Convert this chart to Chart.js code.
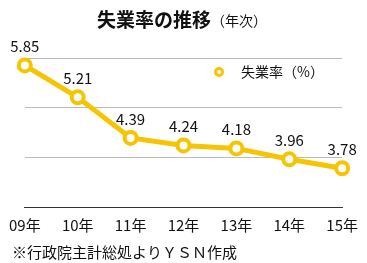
<!DOCTYPE html>
<html>
<head>
<meta charset="utf-8">
<script src="https://cdn.jsdelivr.net/npm/chart.js@4"></script>
<style>
  html, body { margin: 0; padding: 0; background: #fff; }
  #wrap { width: 367px; height: 263px; }
</style>
</head>
<body>
<div id="wrap"><canvas id="chart" width="367" height="263"></canvas></div>
<script>
const years = ["09年", "10年", "11年", "12年", "13年", "14年", "15年"];
const rates = [5.85, 5.21, 4.39, 4.24, 4.18, 3.96, 3.78];
const seriesName = "失業率（%）";

const FONT = '"Noto Sans CJK JP", "Noto Sans", sans-serif';
const YELLOW = "#f6c400";

// title, legend, value labels and footnote drawn by hand
const extras = {
    id: "extras",
    afterDatasetsDraw(chart) {
        const ctx = chart.ctx;
        ctx.save();

        // title
        ctx.fillStyle = "#111";
        ctx.textBaseline = "middle";
        const t1 = "失業率の推移";
        const t2 = "（年次）";
        ctx.font = "14px " + FONT;
        const w2 = ctx.measureText(t2).width;
        ctx.font = "bold 19px " + FONT;
        const w1 = ctx.measureText(t1).width;
        const x = 182 - (w1 + w2) / 2;
        ctx.textAlign = "left";
        ctx.fillText(t1, x, 20);
        ctx.font = "14px " + FONT;
        ctx.fillText(t2, x + w1, 21);

        // legend
        ctx.beginPath();
        ctx.arc(219, 72, 3.5, 0, Math.PI * 2);
        ctx.fillStyle = "#fff";
        ctx.fill();
        ctx.lineWidth = 3;
        ctx.strokeStyle = YELLOW;
        ctx.stroke();
        ctx.fillStyle = "#111";
        ctx.font = "14px " + FONT;
        ctx.fillText(seriesName, 241, 72);

        // value labels
        const meta = chart.getDatasetMeta(0);
        ctx.textAlign = "center";
        ctx.textBaseline = "alphabetic";
        ctx.font = "15px " + FONT;
        meta.data.forEach((pt, i) => {
            ctx.fillText(rates[i].toFixed(2), pt.x, pt.y - 13);
        });

        // footnote
        ctx.textAlign = "left";
        ctx.textBaseline = "middle";
        ctx.font = "15px " + FONT;
        ctx.fillText("※行政院主計総処よりＹＳＮ作成", 12, 252);

        ctx.restore();
    }
};

new Chart(document.getElementById("chart"), {
    type: "line",
    data: {
        labels: years,
        datasets: [{
            label: seriesName,
            data: rates,
            borderColor: YELLOW,
            borderWidth: 5,
            pointRadius: 6,
            pointBorderWidth: 4,
            pointBackgroundColor: "#fff",
            pointBorderColor: YELLOW,
            tension: 0,
            clip: false,
        }],
    },
    options: {
        responsive: false,
        animation: false,
        layout: { padding: { top: 58, left: 22, right: 24, bottom: 20 } },
        plugins: {
            legend: { display: false },
            title: { display: false },
            tooltip: { enabled: false },
        },
        scales: {
            x: {
                offset: false,
                grid: { display: false, drawTicks: false },
                border: { display: true, color: "#333", width: 1 },
                ticks: { color: "#111", font: { family: FONT, size: 15 }, padding: 9, maxRotation: 0, autoSkip: false },
            },
            y: {
                min: 3,
                max: 6,
                ticks: { display: false, stepSize: 1 },
                grid: { color: "#bbb", drawTicks: false },
                border: { display: false },
            },
        },
    },
    plugins: [extras],
});
</script>
</body>
</html>
